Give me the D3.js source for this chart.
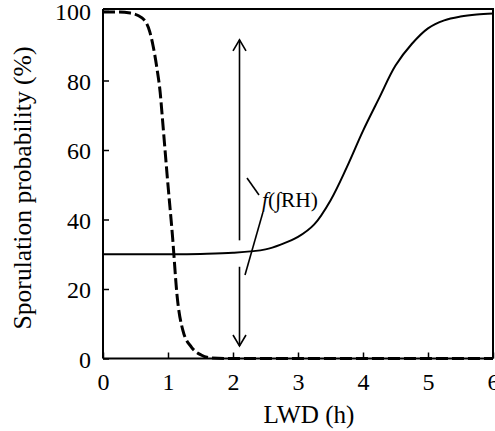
<!DOCTYPE html>
<html><head><meta charset="utf-8">
<script src="https://cdn.jsdelivr.net/npm/d3@7"></script>
<style>body{margin:0;background:#fff}svg{display:block}</style>
</head><body>
<svg id="c" width="495" height="431"></svg>
<script>
// ---- data ----
const xTicks = [0, 1, 2, 3, 4, 5, 6];
const yTicks = [0, 20, 40, 60, 80, 100];
const solidHours  = [0, 0.5, 1, 1.5, 2, 2.5, 2.75, 3, 3.25, 3.5, 3.75, 4, 4.25, 4.5, 4.75, 5, 5.25, 5.5, 5.75, 6];
const solidValues = [30, 30, 30, 30.1, 30.4, 31.4, 32.9, 35, 38.6, 45.5, 55, 65.5, 75, 84.3, 90.5, 95, 97.3, 98.4, 99, 99.3];
const dashedHours  = [0, 0.2, 0.42, 0.6, 0.72, 0.77, 0.83, 0.88, 0.91, 0.99, 1.07, 1.14, 1.23, 1.36, 1.51, 1.65, 2, 3, 4, 5, 6];
const dashedValues = [99.7, 99.7, 99.4, 98, 94, 90, 83.5, 76.5, 70, 52, 35, 18, 8, 3.3, 1, 0.2, 0, 0, 0, 0, 0];
const arrowHour = 2.1;
const arrowUpper = [34, 91.7];   // segment with head at top
const arrowLower = [26.4, 3.6];  // segment with head at bottom
const xTitle = "LWD (h)";
const yTitle = "Sporulation probability (%)";

// ---- layout ----
const L = 103, R = 493, B = 358.5, T = 11, frameTop = 9;
const font = "Liberation Serif, Times New Roman, serif";
const svg = d3.select("#c");
const x = d3.scaleLinear().domain([0, 6]).range([L, R]);
const y = d3.scaleLinear().domain([0, 100]).range([B, T]);

// fit a text's font size so it spans a target length
function fit(sel, target, base) {
  const len = sel.node().getComputedTextLength();
  if (len > 0) sel.attr("font-size", base * target / len);
}

// frame (top/right)
svg.append("path").attr("d", `M${L},${frameTop}H${R}V${B}`)
  .attr("fill", "none").attr("stroke", "#000").attr("stroke-width", 2);

// axes
const xAxis = d3.axisBottom(x).tickValues(xTicks).tickSizeInner(-6).tickSizeOuter(0).tickFormat(d3.format("d"));
const gx = svg.append("g").attr("transform", `translate(0,${B})`).call(xAxis);
const yAxis = d3.axisLeft(y).tickValues(yTicks).tickSizeInner(-6).tickSizeOuter(0).tickFormat(d3.format("d"));
const gy = svg.append("g").attr("transform", `translate(${L},0)`).call(yAxis);
[gx, gy].forEach(g => {
  g.select(".domain").attr("stroke-width", 2).attr("stroke", "#000");
  g.selectAll(".tick line").attr("stroke-width", 1.5).attr("stroke", "#000");
  g.selectAll(".tick text").attr("font-family", font).attr("font-size", 24).attr("fill", "#000");
});
gx.select(".domain").attr("d", `M${L},0H${R}`);
gy.select(".domain").attr("d", `M0,${B}V${frameTop}`);
gx.selectAll(".tick text").attr("y", 31).attr("dy", null);
gy.selectAll(".tick text").attr("x", -12).attr("dy", "0.36em");

// titles
const xt = svg.append("text").attr("x", 309).attr("y", 423).attr("text-anchor", "middle")
  .attr("font-family", font).attr("font-size", 24).text(xTitle);
fit(xt, 91, 24);
const yt = svg.append("text").attr("transform", "translate(31,188) rotate(-90)").attr("text-anchor", "middle")
  .attr("font-family", font).attr("font-size", 25).text(yTitle);
fit(yt, 283, 25);

// curves
const solidLine = d3.line().x(d => x(d[0])).y(d => y(d[1])).curve(d3.curveCatmullRom.alpha(0.5));
const dashLine = d3.line().x(d => x(d[0])).y(d => y(d[1])).curve(d3.curveMonotoneX);
svg.append("path").datum(solidHours.map((h, i) => [h, solidValues[i]]))
  .attr("d", solidLine).attr("fill", "none").attr("stroke", "#000").attr("stroke-width", 2);
svg.append("path").datum(dashedHours.map((h, i) => [h, dashedValues[i]]))
  .attr("d", dashLine).attr("fill", "none").attr("stroke", "#000").attr("stroke-width", 3)
  .attr("stroke-dasharray", "12,4");

// arrows
const ax = x(arrowHour);
const arrowG = svg.append("g").attr("stroke", "#000").attr("fill", "none").attr("stroke-width", 1.6);
arrowG.append("line").attr("x1", ax).attr("x2", ax).attr("y1", y(arrowUpper[0])).attr("y2", y(arrowUpper[1]));
arrowG.append("path").attr("d", `M${ax-6.5},${y(arrowUpper[1])+11}L${ax},${y(arrowUpper[1])}L${ax+6.5},${y(arrowUpper[1])+11}`);
arrowG.append("line").attr("x1", ax).attr("x2", ax).attr("y1", y(arrowLower[0])).attr("y2", y(arrowLower[1]));
arrowG.append("path").attr("d", `M${ax-6.5},${y(arrowLower[1])-11}L${ax},${y(arrowLower[1])}L${ax+6.5},${y(arrowLower[1])-11}`);

// annotation
const lab = svg.append("text").attr("x", 262).attr("y", 207)
  .attr("font-family", font).attr("font-size", 19.5);
lab.append("tspan").attr("font-style", "italic").text("f");
lab.append("tspan").text("(");
lab.append("tspan").attr("font-style", "italic").text("∫");
lab.append("tspan").text("RH)");
fit(lab, 56, 19.5);
arrowG.append("line").attr("x1", 247).attr("y1", 178).attr("x2", 259).attr("y2", 195);
arrowG.append("line").attr("x1", 263).attr("y1", 212).attr("x2", 245).attr("y2", 275);
</script>
</body></html>
